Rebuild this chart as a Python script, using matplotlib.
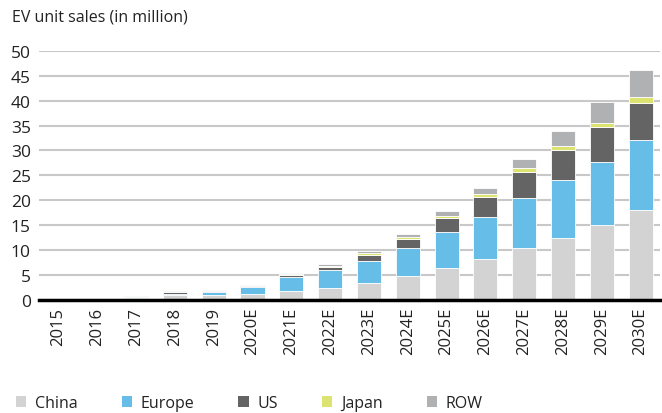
import matplotlib
matplotlib.use("Agg")
import matplotlib.pyplot as plt
import numpy as np
from matplotlib.patches import Patch

plt.rcParams['font.family'] = ['Open Sans', 'DejaVu Sans']

years = ["2015", "2016", "2017", "2018", "2019", "2020E", "2021E", "2022E",
         "2023E", "2024E", "2025E", "2026E", "2027E", "2028E", "2029E", "2030E"]

# EV unit sales by region, million units
china = [0.1, 0.0, 0.3, 0.9, 1.0, 1.1, 1.9, 2.4, 3.4, 4.8, 6.5, 8.2, 10.4, 12.4, 15.0, 18.0]
europe = [0.3, 0.0, 0.25, 0.35, 0.55, 1.45, 2.65, 3.7, 4.5, 5.6, 7.1, 8.5, 10.1, 11.6, 12.6, 14.0]
us = [0.0, 0.0, 0.1, 0.3, 0.3, 0.2, 0.5, 0.6, 1.2, 1.9, 2.8, 3.9, 5.1, 6.1, 7.1, 7.6]
japan = [0.0, 0.0, 0.02, 0.05, 0.05, 0.05, 0.1, 0.15, 0.4, 0.3, 0.4, 0.6, 0.8, 0.8, 0.9, 1.2]
row = [0.0, 0.0, 0.05, 0.15, 0.1, 0.15, 0.25, 0.3, 0.4, 0.7, 1.05, 1.3, 1.9, 2.9, 4.2, 5.4]

regions = ["China", "Europe", "US", "Japan", "ROW"]
colors = ["#d3d3d4", "#65bde8", "#646464", "#dde371", "#afb1b3"]

fig = plt.figure(figsize=(6.62, 4.14), dpi=100)
ax = fig.add_axes([0.059, 0.273, 0.938, 0.602])

x = np.arange(len(years))
bottom = np.zeros(len(years))
for vals, color in zip([china, europe, us, japan, row], colors):
    vals = np.array(vals)
    ax.bar(x, vals, 0.62, bottom=bottom, color=color, edgecolor="white",
           linewidth=0.6, zorder=3)
    bottom += vals

ax.set_xlim(-0.5, len(years) - 0.5)
ax.set_ylim(0, 50)
ax.set_yticks(np.arange(0, 51, 5))
ax.yaxis.grid(True, color="#c8c8c8", linewidth=1.5, zorder=0)
ax.set_axisbelow(True)

for side in ["left", "right", "top"]:
    ax.spines[side].set_visible(False)
ax.spines["bottom"].set_color("black")
ax.spines["bottom"].set_linewidth(2.5)
ax.spines["bottom"].set_zorder(4)

ax.set_xticks(x)
ax.set_xticklabels(years, rotation=90, fontsize=12, color="#222222")
ax.tick_params(axis="x", length=0, pad=5)
ax.tick_params(axis="y", length=0, pad=6, labelsize=12.5, labelcolor="#222222")

fig.text(0.018, 0.957, "EV unit sales (in million)", fontsize=11.5,
         color="#222222", va="center", ha="left")

handles = [Patch(facecolor=c, edgecolor="none") for c in colors]
fig.legend(handles, regions, loc="center left", bbox_to_anchor=(0.024, 0.024),
           ncol=5, frameon=False, fontsize=11.5, handlelength=0.65,
           handleheight=0.65, handletextpad=0.55, columnspacing=2.75,
           borderpad=0.0, borderaxespad=0.0, labelcolor="#222222")

fig.savefig("out.png", dpi=100)
